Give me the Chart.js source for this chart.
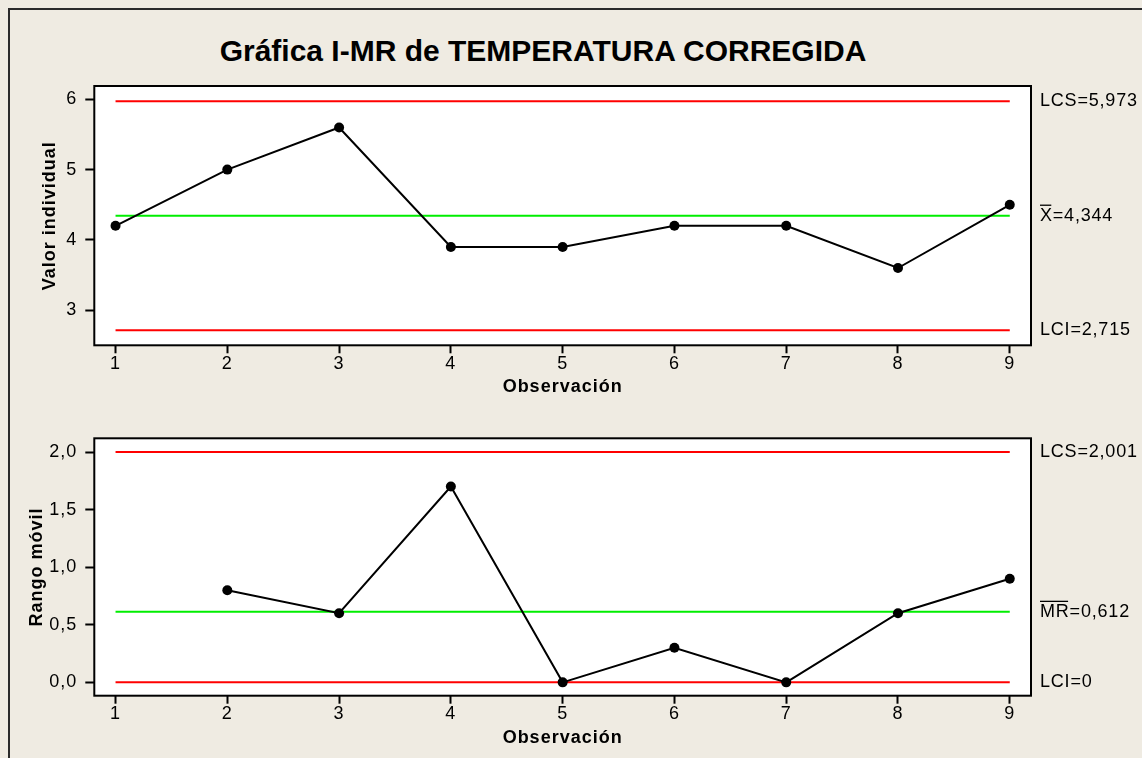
<!DOCTYPE html>
<html><head><meta charset="utf-8">
<script src="https://cdn.jsdelivr.net/npm/chart.js@4.4.1/dist/chart.umd.min.js"></script>
<style>
html,body{margin:0;padding:0;width:1142px;height:758px;overflow:hidden;background:#EFEBE2;}
#frame{position:absolute;left:8px;top:8px;width:1200px;height:800px;border-left:2px solid #2a2a2a;border-top:2px solid #2a2a2a;}
#title{position:absolute;left:0;top:35.5px;width:1086px;text-align:center;font:bold 30px "Liberation Sans",Arial,sans-serif;line-height:1;color:#000;white-space:nowrap;}
canvas{position:absolute;left:0;}
#c1{top:0}
#c2{top:400px}
</style></head><body>
<div id="frame"></div>
<div id="title">Gráfica I-MR de TEMPERATURA CORREGIDA</div>
<canvas id="c1" width="1142" height="400"></canvas>
<canvas id="c2" width="1142" height="358"></canvas>
<script>
// ---- data ----
const observations = [1, 2, 3, 4, 5, 6, 7, 8, 9];
const individualValues = [4.2, 5.0, 5.6, 3.9, 3.9, 4.2, 4.2, 3.6, 4.5];
const movingRanges = [null, 0.8, 0.6, 1.7, 0.0, 0.3, 0.0, 0.6, 0.9];
const I_UCL = 5.973, I_CL = 4.344, I_LCL = 2.715;
const MR_UCL = 2.001, MR_CL = 0.612, MR_LCL = 0;
const xTicks = [1, 2, 3, 4, 5, 6, 7, 8, 9];
const iTicks = [3, 4, 5, 6];
const mrTicks = [0, 0.5, 1.0, 1.5, 2.0];
const iLabels = [
  {text: 'LCS=5,973', value: I_UCL, bar: 0},
  {text: 'X=4,344', value: I_CL, bar: 1},
  {text: 'LCI=2,715', value: I_LCL, bar: 0}
];
const mrLabels = [
  {text: 'LCS=2,001', value: MR_UCL, bar: 0},
  {text: 'MR=0,612', value: MR_CL, bar: 2},
  {text: 'LCI=0', value: MR_LCL, bar: 0}
];

const FONT = '"Liberation Sans", Arial, sans-serif';

const framePlugin = {
  id: 'frameBox',
  beforeDraw(chart) {
    const {ctx, chartArea: a} = chart;
    ctx.save();
    ctx.fillStyle = '#ffffff';
    ctx.fillRect(a.left, a.top, a.right - a.left, a.bottom - a.top);
    ctx.restore();
    ctx.letterSpacing = '1px';
  },
  afterDraw(chart, args, opts) {
    const {ctx, chartArea: a} = chart;
    ctx.save();
    ctx.letterSpacing = '0.8px';
    ctx.strokeStyle = '#000';
    ctx.lineWidth = 2;
    ctx.strokeRect(a.left, a.top, a.right - a.left, a.bottom - a.top);
    const ys = chart.scales.y;
    ctx.font = '18px ' + FONT;
    ctx.fillStyle = '#000';
    ctx.textBaseline = 'middle';
    ctx.textAlign = 'left';
    const x = a.right + 9;
    for (const L of (opts.labels || [])) {
      const y = ys.getPixelForValue(L.value);
      ctx.fillText(L.text, x, y);
      if (L.bar) {
        const w = ctx.measureText(L.text.slice(0, L.bar)).width;
        ctx.beginPath();
        ctx.lineWidth = 1.3;
        ctx.moveTo(x, y - 10.5);
        ctx.lineTo(x + w - 1.5, y - 10.5);
        ctx.stroke();
      }
    }
    ctx.restore();
  }
};

function pts(ys) { return observations.map((o, i) => ({x: o, y: ys[i]})); }
function hline(v) { return [{x: xTicks[0], y: v}, {x: xTicks[xTicks.length - 1], y: v}]; }

function makeChart(id, cfg) {
  const ds = [
    {data: pts(cfg.values), borderColor: '#000', borderWidth: 2, pointRadius: 5, pointBackgroundColor: '#000', pointBorderWidth: 0, tension: 0},
    {data: hline(cfg.ucl), borderColor: '#FF0000', borderWidth: 2, pointRadius: 0},
    {data: hline(cfg.cl), borderColor: '#00EE00', borderWidth: 2, pointRadius: 0},
    {data: hline(cfg.lcl), borderColor: '#FF0000', borderWidth: 2, pointRadius: 0}
  ];
  return new Chart(document.getElementById(id), {
    type: 'line',
    data: {datasets: ds},
    plugins: [framePlugin],
    options: {
      responsive: false,
      animation: false,
      events: [],
      devicePixelRatio: 1,
      layout: {padding: {top: cfg.padTop, right: 111, left: 0, bottom: 0}},
      plugins: {legend: {display: false}, tooltip: {enabled: false}, frameBox: {labels: cfg.labels}},
      scales: {
        x: {
          type: 'linear', min: 0.81, max: 9.19,
          afterBuildTicks: s => { s.ticks = xTicks.map(v => ({value: v})); },
          afterFit: s => { s.height = cfg.xH; },
          grid: {display: true, drawOnChartArea: false, drawTicks: true, tickLength: 8, tickWidth: 2, tickColor: '#000'},
          border: {display: false},
          ticks: {color: '#000', font: {family: FONT, size: 18}, padding: 0, autoSkip: false, maxRotation: 0, callback: v => String(v)},
          title: {display: true, text: 'Observación', color: '#000', font: {family: FONT, size: 18, weight: 'bold'}, padding: {top: 0, bottom: cfg.xTitlePad}}
        },
        y: {
          type: 'linear', min: cfg.ymin, max: cfg.ymax,
          afterBuildTicks: s => { s.ticks = cfg.ticks.map(v => ({value: v})); },
          afterFit: s => { s.width = 94.3; },
          grid: {display: true, drawOnChartArea: false, drawTicks: true, tickLength: 9, tickWidth: 2, tickColor: '#000'},
          border: {display: false},
          ticks: {color: '#000', font: {family: FONT, size: 18}, padding: 8, autoSkip: false, callback: cfg.fmt},
          title: {display: true, text: cfg.ytitle, color: '#000', font: {family: FONT, size: 18, weight: 'bold'}, padding: {top: cfg.yTitlePad, bottom: 0}}
        }
      }
    }
  });
}

makeChart('c1', {
  values: individualValues, ucl: I_UCL, cl: I_CL, lcl: I_LCL, labels: iLabels,
  padTop: 86, xH: 54.7, xTitlePad: 2.2, ymin: 2.5, ymax: 6.19, ticks: iTicks,
  fmt: v => String(v), ytitle: 'Valor individual', yTitlePad: 39.7
});
makeChart('c2', {
  values: movingRanges, ucl: MR_UCL, cl: MR_CL, lcl: MR_LCL, labels: mrLabels,
  padTop: 38.3, xH: 62.3, xTitlePad: 9.2, ymin: -0.116, ymax: 2.119, ticks: mrTicks,
  fmt: v => v.toFixed(1).replace('.', ','), ytitle: 'Rango móvil', yTitlePad: 26
});
</script>
</body></html>
